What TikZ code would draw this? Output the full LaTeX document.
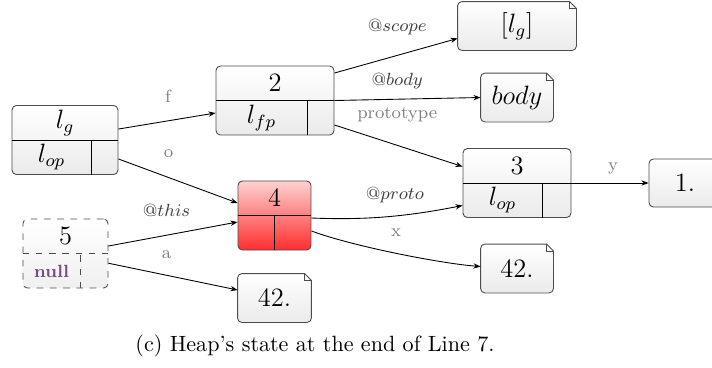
\documentclass[tikz,border=0pt]{standalone}
\usepackage{tikz}
\usetikzlibrary{positioning, arrows.meta, calc}
\newcommand{\px}{0.4525pt}
\newcommand{\fold}{7}
\newcommand{\heaparrow}{-{Stealth[length=3.2pt,width=2.4pt]}}
\definecolor{nullviolet}{RGB}{118,78,128}

\tikzset{
  record/.style={draw=black!70, rounded corners=2pt, top color=white, bottom color=black!8,
    minimum height=69*\px, inner sep=0pt},
  hotrecord/.style={record, top color=red!18, bottom color=red!82},
  ghostrecord/.style={record, dashed, top color=white, bottom color=black!6},
  cellline/.style={black, line width=0.4pt},
  ghostline/.style={black!70, dashed},
  celltext/.style={font=\fontsize{11.5}{13}\selectfont, inner sep=1pt},
  note/.style={rounded corners=2pt, top color=white, bottom color=black!8,
    minimum height=48*\px, inner sep=0pt, font=\fontsize{11.5}{13}\selectfont},
  noteline/.style={draw=black!70},
  field/.style={font=\footnotesize, text=black!50, inner sep=0pt},
  slot/.style={font=\footnotesize, text=black!75, inner sep=0pt}
}

% record: name, position, width, right cell width, top text, left text, box style, line style
\newcommand{\heaprecord}[8]{%
  \node[#7, minimum width=#3*\px] (#1) at (#2) {};
  \draw[#8] (#1.west) -- (#1.east);
  \draw[#8] ($(#1.south east)+(-#4,0)$) coordinate (#1-cut) -- (#1-cut |- #1.center) coordinate (#1-mid);
  \coordinate (#1-te) at ($(#1.north east)!0.5!(#1.east)$);
  \coordinate (#1-be) at ($(#1.south east)!0.5!(#1.east)$);
  \coordinate (#1-tw) at ($(#1.north west)!0.5!(#1.west)$);
  \coordinate (#1-bw) at ($(#1.south west)!0.5!(#1.west)$);
  \node[celltext] (#1-top) at ($(#1.north)!0.5!(#1.center)$) {#5};
  \node[celltext] (#1-left) at ($(#1.south west)!0.5!(#1-mid)$) {#6};
}

% note with folded corner: name, position, width, text
\newcommand{\heapnote}[4]{%
  \node[note, minimum width=#3*\px] (#1) at (#2) {#4};
  \draw[noteline] ($(#1.north east)+(-\fold,0)$) [rounded corners=2pt] -- (#1.north west)
    -- (#1.south west) -- (#1.south east) [sharp corners] -- ($(#1.north east)+(0,\fold)$) -- cycle;
  \draw[noteline] ($(#1.north east)+(-\fold,0)$) -- ++(0,\fold) -- ++(\fold,0);
}

\begin{document}
\begin{tikzpicture}[x=\px, y=-\px]
  \useasboundingbox (0,0) rectangle (712,367);

  % objects
  \heaprecord{lg}{65,140}{106}{27}{$l_g$}{$l_{op}$}{record}{cellline}
  \heaprecord{two}{275,100.5}{118}{27}{$2$}{$l_{fp}$}{record}{cellline}
  \heaprecord{three}{517,183}{108}{29}{$3$}{$l_{op}$}{record}{cellline}
  \heaprecord{four}{274.5,215.5}{73}{37}{$4$}{}{hotrecord}{cellline}
  \heaprecord{five}{65.5,253.5}{85}{28}{$5$}{\footnotesize\bfseries\color{nullviolet}null}{ghostrecord}{ghostline}

  % values
  \heapnote{scope}{517,26}{118}{$[l_g]$}
  \heapnote{body}{517,97.5}{72}{$body$}
  \heapnote{xval}{517,268.5}{72}{$42.$}
  \heapnote{aval}{274.5,298}{73}{$42.$}
  \node[record, celltext, minimum width=72*\px, minimum height=48*\px] (yval) at (685,183) {$1.$};

  % fields
  \draw[\heaparrow] ($(lg-te)+(0,6.5)$) -- node[field, pos=0.51, yshift=10.9pt] {f} ($(two-bw)+(0,-5)$);
  \draw[\heaparrow] ($(lg-be)+(0,1.5)$) -- node[field, pos=0.42, yshift=10.9pt] {o} ($(four-tw)+(0,5)$);
  \draw[\heaparrow] ($(two-te)+(0,-10)$) -- node[slot, pos=0.51, yshift=12.7pt] {@$scope$} ($(scope.south west)+(0,-12)$);
  \draw[\heaparrow] (two.east) -- node[slot, pos=0.43, yshift=8.1pt] {@$body$} (body.west);
  \draw[\heaparrow] ($(two-be)+(0,7)$) -- node[field, pos=0.49, yshift=13.8pt] {prototype} ($(three-tw)+(0,1)$);
  \draw[\heaparrow] (three.east) -- node[field, pos=0.54, yshift=6.5pt] {y} (yval.west);
  \draw[\heaparrow] ($(four.east)+(0,2.5)$) .. controls +(50,2) and +(-60,12) ..
    node[slot, pos=0.58, yshift=9.5pt] {@$proto$} ($(three-bw)+(0,5)$);
  \draw[\heaparrow] ($(four-be)+(0,-2)$) .. controls +(40,15) and +(-40,-3) ..
    node[field, pos=0.5, yshift=9.5pt] {x} ($(xval.west)+(0,-2)$);
  \draw[\heaparrow] ($(five.east)+(0,-7.5)$) -- node[slot, pos=0.45, yshift=11.3pt] {@$this$} ($(four.west)+(0,6.5)$);
  \draw[\heaparrow] ($(five-be)+(0,-7.75)$) -- node[field, pos=0.45, yshift=9.5pt] {a} ($(aval.west)+(0,-8)$);

  \node (caption) at (315,346) {(c) Heap's state at the end of Line 7.};
\end{tikzpicture}
\end{document}
